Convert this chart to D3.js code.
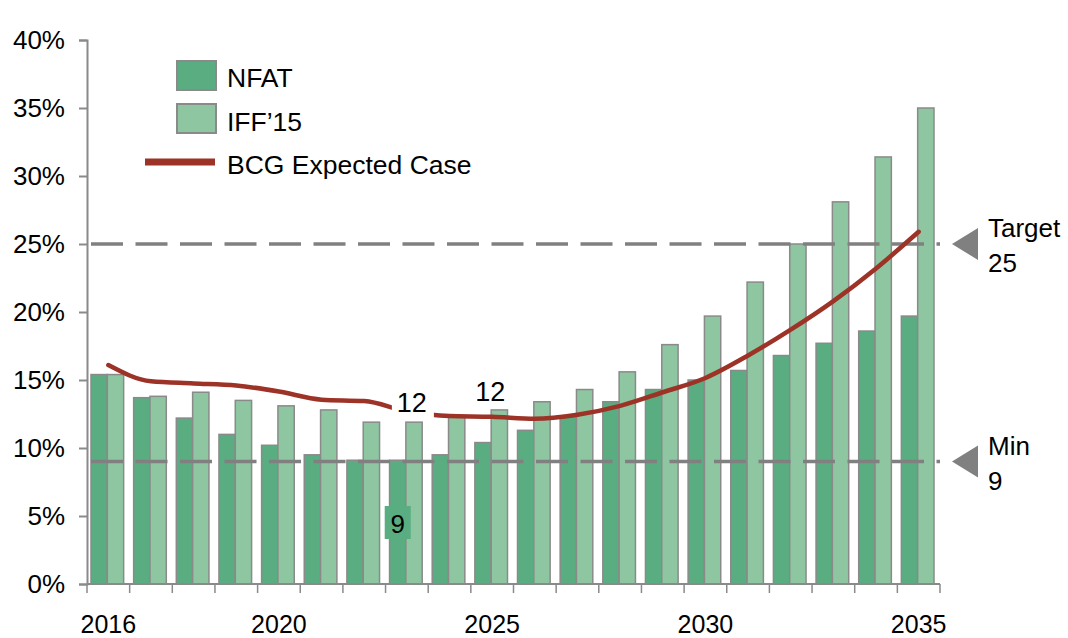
<!DOCTYPE html>
<html>
<head>
<meta charset="utf-8">
<script src="https://cdn.jsdelivr.net/npm/d3@7"></script>
<style>
  body { margin: 0; background: #fff; }
  text { font-family: "Liberation Sans", Arial, sans-serif; fill: #000; }
</style>
</head>
<body>
<script>
//data
var years = d3.range(2016, 2036);
var nfat = [15.4, 13.7, 12.2, 11.0, 10.2, 9.5, 9.1, 9.1, 9.5, 10.4, 11.3, 12.3, 13.4, 14.3, 15.0, 15.7, 16.8, 17.7, 18.6, 19.7];
var iff15 = [15.4, 13.8, 14.1, 13.5, 13.1, 12.8, 11.9, 11.9, 12.3, 12.8, 13.4, 14.3, 15.6, 17.6, 19.7, 22.2, 25.0, 28.1, 31.4, 35.0];
var bcg = [16.1, 14.9, 14.75, 14.6, 14.15, 13.55, 13.45, 12.7, 12.35, 12.3, 12.15, 12.45, 13.1, 14.1, 15.15, 16.8, 18.7, 20.8, 23.2, 25.9];
var yTicks = [0, 5, 10, 15, 20, 25, 30, 35, 40];
var xLabels = [2016, 2020, 2025, 2030, 2035];
var refLines = [{name: "Target", value: 25}, {name: "Min", value: 9}];
var callouts = [{year: 2023, value: 12, text: "12"}, {year: 2025, value: 12, text: "12"}];
var nineLabel = {year: 2023, text: "9"};

(function(){

var width = 1068, height = 638;
var plotLeft = 87, plotRight = 940, plotTop = 40, plotBottom = 584;
var darkGreen = "#5aad81", lightGreen = "#8dc6a0", barStroke = "#8a8a8a";
var lineRed = "#9d3227", grey = "#808080";
var fs = 26;

var svg = d3.select("body").append("svg")
    .attr("width", width)
    .attr("height", height);

var x = d3.scaleBand()
    .domain(years)
    .range([plotLeft, plotRight]);

//two bars per year, a little off center like the original
var xInner = d3.scaleBand()
    .domain(["nfat", "iff"])
    .range([4, x.bandwidth() - 6]);

var y = d3.scaleLinear()
    .domain([0, 40])
    .range([plotBottom, plotTop]);

var rows = years.map(function(yr, i){
    return {year: yr, nfat: nfat[i], iff: iff15[i], bcg: bcg[i]};
});

//bars
var groups = svg.append("g").selectAll("g")
    .data(rows)
    .enter()
    .append("g")
    .attr("transform", function(d){ return "translate(" + x(d.year) + ",0)"; });

groups.append("rect")
    .attr("x", xInner("nfat"))
    .attr("width", xInner.bandwidth())
    .attr("y", function(d){ return y(d.nfat); })
    .attr("height", function(d){ return plotBottom - y(d.nfat); })
    .attr("fill", darkGreen)
    .attr("stroke", barStroke)
    .attr("stroke-width", 1.5);

groups.append("rect")
    .attr("x", xInner("iff"))
    .attr("width", xInner.bandwidth())
    .attr("y", function(d){ return y(d.iff); })
    .attr("height", function(d){ return plotBottom - y(d.iff); })
    .attr("fill", lightGreen)
    .attr("stroke", barStroke)
    .attr("stroke-width", 1.5);

//dashed reference lines with arrows
refLines.forEach(function(r){
    var ty = y(r.value);
    svg.append("line")
        .attr("x1", plotLeft + 4)
        .attr("x2", plotRight)
        .attr("y1", ty)
        .attr("y2", ty)
        .attr("stroke", grey)
        .attr("stroke-width", 3.5)
        .attr("stroke-dasharray", "32,12.5");

    svg.append("path")
        .attr("d", "M952," + ty + "L978," + (ty - 16) + "L978," + (ty + 16) + "Z")
        .attr("fill", grey);

    svg.append("text")
        .attr("x", 988)
        .attr("y", ty - 7)
        .attr("font-size", fs)
        .text(r.name);
    svg.append("text")
        .attr("x", 988)
        .attr("y", ty + 28)
        .attr("font-size", fs)
        .text(r.value);
});

//BCG expected case
var line = d3.line()
    .x(function(d){ return x(d.year) + x.bandwidth() / 2; })
    .y(function(d){ return y(d.bcg); })
    .curve(d3.curveMonotoneX);

svg.append("path")
    .datum(rows)
    .attr("d", line)
    .attr("fill", "none")
    .attr("stroke", lineRed)
    .attr("stroke-width", 4.5)
    .attr("stroke-linecap", "round");

//callout labels
callouts.forEach(function(c, i){
    var cx = x(c.year) + x.bandwidth() / 2;
    if (i == 0){
        svg.append("rect")
            .attr("x", cx - 15)
            .attr("y", y(c.value) - 32)
            .attr("width", 42)
            .attr("height", 30)
            .attr("fill", "#fff");
        svg.append("text")
            .attr("x", cx + 5)
            .attr("y", y(c.value) - 9)
            .attr("text-anchor", "middle")
            .attr("font-size", 27)
            .text(c.text);
    } else {
        svg.append("text")
            .attr("x", cx - 2)
            .attr("y", y(c.value) - 20)
            .attr("text-anchor", "middle")
            .attr("font-size", 27)
            .text(c.text);
    }
});

//"9" label on the 2023 NFAT bar
var nineX = x(nineLabel.year) + xInner("nfat") + xInner.bandwidth() / 2;
svg.append("rect")
    .attr("x", nineX - 13)
    .attr("y", 506)
    .attr("width", 26)
    .attr("height", 33)
    .attr("fill", darkGreen);
svg.append("text")
    .attr("x", nineX)
    .attr("y", 533)
    .attr("text-anchor", "middle")
    .attr("font-size", fs)
    .text(nineLabel.text);

//y axis
var yAxis = d3.axisLeft(y)
    .tickValues(yTicks)
    .tickSize(8)
    .tickPadding(14)
    .tickFormat(function(d){ return d + "%"; });

var gy = svg.append("g")
    .attr("transform", "translate(" + plotLeft + ",0)")
    .call(yAxis);
gy.select(".domain").attr("stroke", barStroke).attr("stroke-width", 2);
gy.selectAll(".tick line").attr("stroke", barStroke).attr("stroke-width", 2);
gy.selectAll(".tick text")
    .attr("font-size", fs)
    .attr("font-family", "Liberation Sans, Arial, sans-serif")
    .attr("fill", "#000");

//x axis, ticks sit between the years
svg.append("line")
    .attr("x1", plotLeft).attr("x2", plotRight)
    .attr("y1", plotBottom).attr("y2", plotBottom)
    .attr("stroke", barStroke).attr("stroke-width", 2);

var edges = years.map(function(yr){ return x(yr); }).concat([plotRight]);
svg.append("g").selectAll("line")
    .data(edges)
    .enter()
    .append("line")
    .attr("x1", function(d){ return d; })
    .attr("x2", function(d){ return d; })
    .attr("y1", plotBottom)
    .attr("y2", plotBottom + 9)
    .attr("stroke", barStroke)
    .attr("stroke-width", 1.5);

svg.append("g").selectAll("text")
    .data(xLabels)
    .enter()
    .append("text")
    .attr("x", function(d){ return x(d) + x.bandwidth() / 2; })
    .attr("y", 633)
    .attr("text-anchor", "middle")
    .attr("font-size", 25)
    .text(function(d){ return d; });

//legend
var legend = svg.append("g");
legend.append("rect").attr("x", 177).attr("y", 61).attr("width", 39).attr("height", 29)
    .attr("fill", darkGreen).attr("stroke", barStroke).attr("stroke-width", 2);
legend.append("rect").attr("x", 177).attr("y", 104).attr("width", 39).attr("height", 29)
    .attr("fill", lightGreen).attr("stroke", barStroke).attr("stroke-width", 2);
legend.append("line").attr("x1", 145).attr("x2", 215).attr("y1", 162).attr("y2", 162)
    .attr("stroke", lineRed).attr("stroke-width", 7);
legend.append("text").attr("x", 227).attr("y", 87).attr("font-size", 26.5).text("NFAT");
legend.append("text").attr("x", 227).attr("y", 131).attr("font-size", 26.5).text("IFF\u201915");
legend.append("text").attr("x", 227).attr("y", 174).attr("font-size", 26.5).text("BCG Expected Case");

})();
</script>
</body>
</html>
